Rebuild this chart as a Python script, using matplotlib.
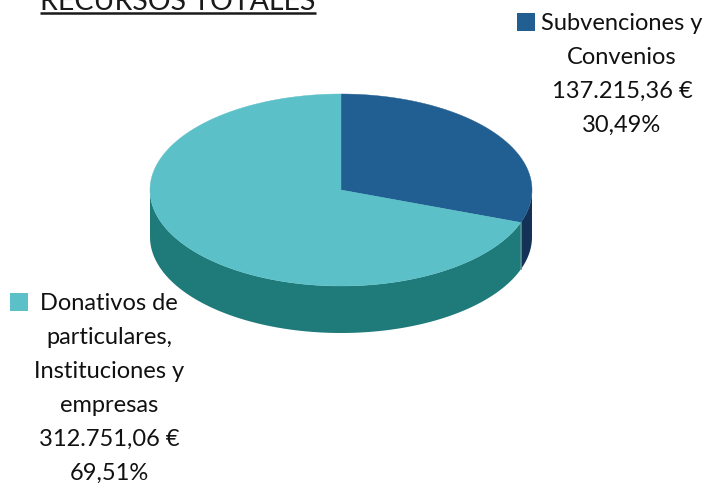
import numpy as np
import matplotlib
matplotlib.use('Agg')
import matplotlib.pyplot as plt
from matplotlib.patches import Polygon, Rectangle

plt.rcParams['font.family'] = ['Lato', 'DejaVu Sans']

# data
categories = ['Subvenciones y\nConvenios', 'Donativos de\nparticulares,\nInstituciones y\nempresas']
amounts = [137215.36, 312751.06]
amount_labels = ['137.215,36 €', '312.751,06 €']
percent_labels = ['30,49%', '69,51%']
top_colors = ['#215f92', '#5bc0c8']
side_colors = ['#143256', '#1f7a7a']

# pie geometry in pixels
cx, cy = 341, 190
rx, ry = 191, 96
depth = 47

fig = plt.figure(figsize=(7.06, 4.83), dpi=100)
ax = fig.add_axes([0, 0, 1, 1])
ax.set_xlim(0, 706)
ax.set_ylim(483, 0)
ax.axis('off')


def ellipse_points(a0, a1, n=200):
    # angles measured clockwise from 12 o'clock
    t = np.linspace(a0, a1, n)
    return cx + rx * np.sin(t), cy - ry * np.cos(t)


shares = np.array(amounts) / sum(amounts)
edges = np.concatenate([[0], np.cumsum(shares)]) * 2 * np.pi

# side walls first, only the front half of the pie shows
for i in range(2):
    a0 = max(edges[i], np.pi / 2)
    a1 = min(edges[i + 1], 3 * np.pi / 2)
    if a1 <= a0:
        continue
    x, y = ellipse_points(a0, a1)
    pts = np.column_stack([np.concatenate([x, x[::-1]]),
                           np.concatenate([y, y[::-1] + depth])])
    ax.add_patch(Polygon(pts, closed=True, facecolor=side_colors[i], edgecolor='none', zorder=2))

# seam between the two walls
x, y = ellipse_points(edges[1], edges[1], 1)
ax.plot([x[0], x[0]], [y[0], y[0] + depth], color='#5f8a9a', lw=0.6, zorder=3)

# top faces
for i in range(2):
    x, y = ellipse_points(edges[i], edges[i + 1])
    pts = np.column_stack([np.concatenate([[cx], x]), np.concatenate([[cy], y])])
    ax.add_patch(Polygon(pts, closed=True, facecolor=top_colors[i], edgecolor=top_colors[i], lw=0.3, zorder=4))

# labels
label_size = 17
line_h = 34


def draw_label(xc, y_first, lines):
    for k, line in enumerate(lines):
        ax.text(xc, y_first + k * line_h, line, ha='center', va='center',
                fontsize=label_size, color='#111111', zorder=6)


lines0 = categories[0].split('\n') + [amount_labels[0], percent_labels[0]]
lines1 = categories[1].split('\n') + [amount_labels[1], percent_labels[1]]
draw_label(622, 23, lines0)
draw_label(109, 303, lines1)

ax.add_patch(Rectangle((517, 13), 18, 18, facecolor=top_colors[0], edgecolor='none'))
ax.add_patch(Rectangle((10, 293), 18, 18, facecolor=top_colors[1], edgecolor='none'))

# title is cut by the top of the picture
ax.text(178, 10, 'RECURSOS TOTALES', ha='center', va='baseline', fontsize=20.5,
        color='#1a1a1a', clip_on=False)
ax.plot([40, 316], [13, 13], color='#1a1a1a', lw=1.8, solid_capstyle='butt')

fig.savefig('out.png', dpi=100)
